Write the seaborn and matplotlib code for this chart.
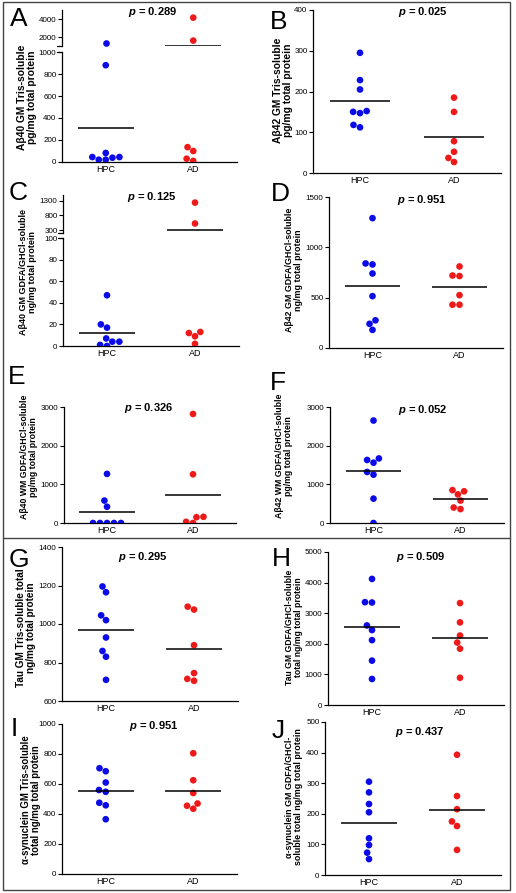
"""
Figura de dispersion HPC vs AD (paneles A-J) con medias por grupo.
"""

import numpy as np
import pandas as pd
import matplotlib
matplotlib.use("Agg")
import matplotlib.pyplot as plt
import seaborn as sns
from matplotlib.patches import Rectangle
from matplotlib.lines import Line2D

# --- Datos (HPC n=8, AD n=6) ---
groups = ["HPC", "AD"]

a_hpc = [1330, 880, 45, 39, 21, 21, 45, 82]
a_ad = [4150, 1600, 135, 100, 30, 10]
b_hpc = [295, 228, 205, 150, 147, 152, 112, 118]
b_ad = [185, 150, 78, 52, 37, 27]
c_hpc = [47, 20, 17, 7, 4, 0, 1, 4]
c_ad = [1240, 525, 13, 12, 9, 2]
d_hpc = [1290, 830, 840, 740, 515, 275, 240, 180]
d_ad = [810, 715, 720, 525, 430, 430]
e_hpc = [1270, 580, 420, 0, 0, 0, 0, 0]
e_ad = [2820, 1260, 150, 0, 30, 160]
f_hpc = [2650, 1630, 1560, 1670, 1250, 1320, 630, 0]
f_ad = [820, 850, 740, 580, 360, 400]
g_hpc = [1195, 1165, 1045, 1020, 930, 860, 830, 710]
g_ad = [1075, 1090, 890, 745, 705, 715]
h_hpc = [4120, 3350, 3360, 2600, 2450, 2120, 1450, 850]
h_ad = [3330, 2700, 2270, 2040, 1840, 890]
i_hpc = [705, 685, 610, 560, 548, 475, 458, 365]
i_ad = [805, 625, 540, 470, 435, 455]
j_hpc = [305, 270, 232, 205, 120, 98, 73, 52]
j_ad = [393, 258, 215, 175, 160, 82]

p_values = ["0.289", "0.025", "0.125", "0.951", "0.326",
            "0.052", "0.295", "0.509", "0.951", "0.437"]

ylabels = [
    "A\u03b240 GM Tris-soluble\npg/mg total protein",
    "A\u03b242 GM Tris-soluble\npg/mg total protein",
    "A\u03b240 GM GDFA/GHCl-soluble\nng/mg total protein",
    "A\u03b242 GM GDFA/GHCl-soluble\nng/mg total protein",
    "A\u03b240 WM GDFA/GHCl-soluble\npg/mg total protein",
    "A\u03b242 WM GDFA/GHCl-soluble\npg/mg total protein",
    "Tau GM Tris-soluble total\nng/mg total protein",
    "Tau GM GDFA/GHCl-soluble\ntotal ng/mg total protein",
    "\u03b1-synuclein GM Tris-soluble\ntotal ng/mg total protein",
    "\u03b1-synuclein GM GDFA/GHCl-\nsoluble total ng/mg total protein",
]

# ejes simples
b_ticks = [0, 100, 200, 300, 400]
d_ticks = [0, 500, 1000, 1500]
ef_ticks = [0, 1000, 2000, 3000]
g_ticks = [600, 800, 1000, 1200, 1400]
h_ticks = [0, 1000, 2000, 3000, 4000, 5000]
i_ticks = [0, 200, 400, 600, 800, 1000]
j_ticks = [0, 100, 200, 300, 400, 500]
# ejes cortados: (inferior, superior)
a_low_ticks, a_high_ticks = [0, 200, 400, 600, 800, 1000], [2000, 4000]
c_low_ticks, c_high_ticks = [0, 20, 40, 60, 80, 100], [300, 800, 1300]

palette = {"HPC": "#0b0be8", "AD": "#ee1a1a"}

# --- Layout en pixeles ---
W, H = 516, 893


def box(l, t, r, b):
    return [l / W, 1 - b / H, (r - l) / W, (b - t) / H]


sns.set_theme(style="ticks")
plt.rcParams["font.family"] = ["Liberation Sans", "DejaVu Sans"]
plt.rcParams["mathtext.fontset"] = "custom"
plt.rcParams["mathtext.it"] = "Liberation Sans:italic:bold"
plt.rcParams["mathtext.rm"] = "Liberation Sans:bold"
for key in ["text.color", "axes.labelcolor", "xtick.color", "ytick.color"]:
    plt.rcParams[key] = "black"

fig = plt.figure(figsize=(W / 100, H / 100), dpi=100)


def style_axis(ax, bottom=True):
    sns.despine(ax=ax, bottom=not bottom)
    for s in ["left", "bottom"]:
        ax.spines[s].set_linewidth(0.9)
        ax.spines[s].set_color("black")
    ax.tick_params(axis="y", length=3, width=0.8, labelsize=5.8, pad=1)
    ax.tick_params(axis="x", length=0, labelsize=6.5, pad=2)
    ax.set_xlabel("")
    ax.set_ylabel("")
    if not bottom:
        ax.set_xticks([])


def scatter(ax, hpc, ad, lo=-np.inf, hi=np.inf):
    # solo los puntos que caen dentro del tramo del eje
    hpc = [v for v in hpc if lo <= v <= hi]
    ad = [v for v in ad if lo <= v <= hi]
    df = pd.DataFrame({"grupo": ["HPC"] * len(hpc) + ["AD"] * len(ad),
                       "valor": hpc + ad})
    sns.swarmplot(data=df, x="grupo", y="valor", hue="grupo", order=groups,
                  palette=palette, size=4.8, linewidth=0, ax=ax, legend=False)
    ax.set_xlim(-0.5, 1.5)


def mean_lines(ax_list, hpc, ad):
    # cada media se dibuja en el eje cuyo rango la contiene
    for i, vals in enumerate([hpc, ad]):
        m = np.mean(vals)
        for ax in ax_list:
            lo, hi = ax.get_ylim()
            if lo <= m < hi:
                ax.hlines(m, i - 0.32, i + 0.32, color="black", lw=1.1, zorder=3)
                break


def simple_panel(rect, hpc, ad, ticks):
    ax = fig.add_axes(box(*rect))
    scatter(ax, hpc, ad)
    ax.set_ylim(ticks[0], ticks[-1])
    ax.set_yticks(ticks)
    style_axis(ax)
    mean_lines([ax], hpc, ad)
    return ax


def broken_panel(rect_low, rect_high, hpc, ad, low_ticks, low_lim, high_ticks, high_lim):
    ax_lo = fig.add_axes(box(*rect_low))
    ax_hi = fig.add_axes(box(*rect_high))
    scatter(ax_lo, hpc, ad, hi=low_lim[1])
    scatter(ax_hi, hpc, ad, lo=high_lim[0])
    ax_lo.set_ylim(*low_lim)
    ax_lo.set_yticks(low_ticks)
    ax_hi.set_ylim(*high_lim)
    ax_hi.set_yticks(high_ticks)
    style_axis(ax_lo)
    style_axis(ax_hi, bottom=False)
    mean_lines([ax_lo, ax_hi], hpc, ad)
    # marcas del corte
    kw = dict(color="black", lw=0.9, clip_on=False)
    ax_hi.plot([-0.03, 0.0], [0, 0], transform=ax_hi.transAxes, **kw)
    ax_lo.plot([-0.03, 0.0], [1, 1], transform=ax_lo.transAxes, **kw)
    return ax_lo, ax_hi


broken_panel((62, 52, 237, 162), (62, 10, 237, 46), a_hpc, a_ad,
             a_low_ticks, (0, 1000), a_high_ticks, (1000, 5000))
simple_panel((313, 10, 501, 173), b_hpc, b_ad, b_ticks)
broken_panel((63, 238, 239, 346), (63, 195, 239, 233), c_hpc, c_ad,
             c_low_ticks, (0, 100), c_high_ticks, (200, 1500))
simple_panel((329, 197, 503, 348), d_hpc, d_ad, d_ticks)
simple_panel((64, 407, 236, 523), e_hpc, e_ad, ef_ticks)
simple_panel((330, 407, 504, 523), f_hpc, f_ad, ef_ticks)
simple_panel((62, 547, 238, 701), g_hpc, g_ad, g_ticks)
simple_panel((328, 552, 504, 705), h_hpc, h_ad, h_ticks)
simple_panel((62, 724, 237, 874), i_hpc, i_ad, i_ticks)
simple_panel((325, 722, 501, 875), j_hpc, j_ad, j_ticks)

# --- Textos: letras, valores p, etiquetas del eje y ---
letters = list("ABCDEFGHIJ")
letter_pos = [(10, 7), (270, 10), (9, 181), (271, 182), (8, 365),
              (270, 371), (9, 548), (272, 547), (11, 717), (272, 719)]
p_pos = [(153, 12), (423, 12), (152, 197), (422, 200), (149, 408),
         (423, 410), (143, 557), (421, 557), (154, 726), (420, 732)]
label_pos = [(27, 97), (283, 90), (28, 272), (294, 270), (29, 457),
             (284, 456), (26, 628), (294, 627), (31, 800), (294, 797)]
label_size = [7.4, 7.4, 6.5, 6.4, 6.3, 6.3, 7.2, 6.2, 6.9, 6.4]

for k in range(10):
    x, y = letter_pos[k]
    fig.text(x / W, 1 - y / H, letters[k], fontsize=19, ha="left", va="top")
    x, y = p_pos[k]
    fig.text(x / W, 1 - y / H, r"$\mathit{p}$ = " + p_values[k], fontsize=8,
             fontweight="bold", ha="center", va="center")
    x, y = label_pos[k]
    fig.text(x / W, 1 - y / H, ylabels[k], fontsize=label_size[k], fontweight="bold",
             rotation=90, ha="center", va="center", multialignment="center",
             linespacing=1.1)

# --- Marco exterior y separador ---
fig.add_artist(Rectangle((3 / W, 1 - 890 / H), 507 / W, 888 / H, fill=False,
                         ec="#444444", lw=1, transform=fig.transFigure))
fig.add_artist(Line2D([3 / W, 510 / W], [1 - 538 / H] * 2, color="#444444", lw=1,
                      transform=fig.transFigure))

fig.savefig("out.png", dpi=100)
plt.close(fig)
